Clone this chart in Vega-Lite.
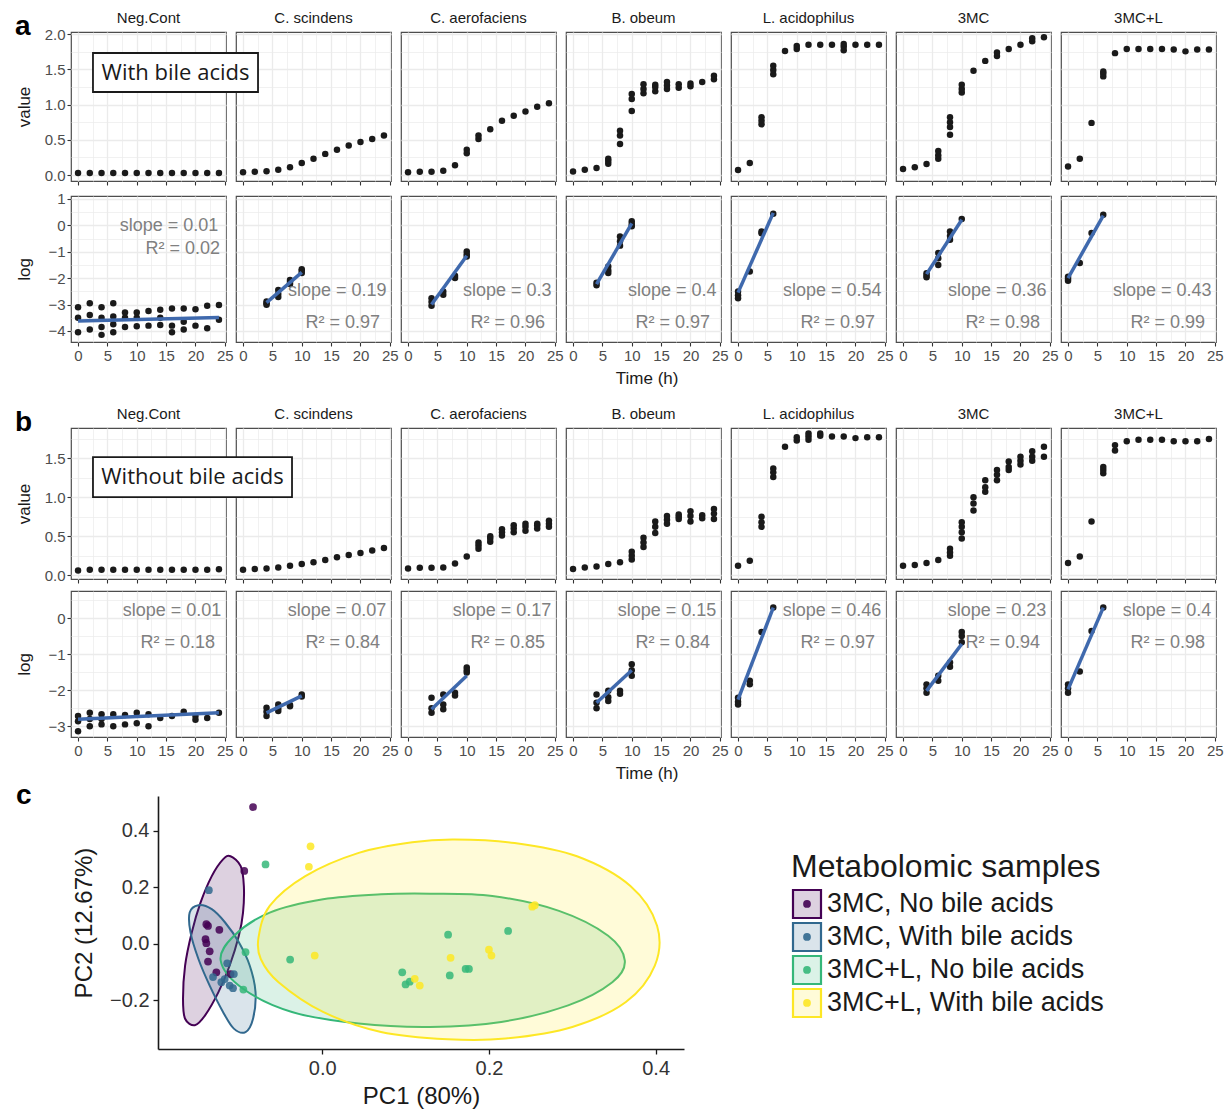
{
"$schema": "https://vega.github.io/schema/vega-lite/v6.json",
"padding": {"left": 15, "right": 4, "top": 11, "bottom": 2},
"background": "white",
"config": {
  "font": "Liberation Sans",
  "view": {"stroke": "#4d4d4d", "strokeWidth": 1.2},
  "axis": {"labelFont": "Liberation Sans", "labelFontSize": 15, "labelColor": "#4d4d4d", "titleFont": "Liberation Sans", "titleFontSize": 17, "titleFontWeight": "normal", "titleColor": "#1a1a1a", "tickColor": "#333333", "tickWidth": 1.1, "tickSize": 4, "labelPadding": 2, "domain": false, "gridColor": "#ebebeb", "labelOverlap": false},
  "header": {"labelFont": "Liberation Sans", "labelFontSize": 15, "labelColor": "#1a1a1a"},
  "title": {"font": "Liberation Sans"}
},
"datasets": {
"aval": [
{"s":"Neg.Cont","t":0,"v":0.03},{"s":"Neg.Cont","t":2,"v":0.03},{"s":"Neg.Cont","t":4,"v":0.03},{"s":"Neg.Cont","t":6,"v":0.03},{"s":"Neg.Cont","t":8,"v":0.03},{"s":"Neg.Cont","t":10,"v":0.03},{"s":"Neg.Cont","t":12,"v":0.03},{"s":"Neg.Cont","t":14,"v":0.03},{"s":"Neg.Cont","t":16,"v":0.03},{"s":"Neg.Cont","t":18,"v":0.03},{"s":"Neg.Cont","t":20,"v":0.03},{"s":"Neg.Cont","t":22,"v":0.03},{"s":"Neg.Cont","t":24,"v":0.03},
{"s":"C. scindens","t":0,"v":0.04},{"s":"C. scindens","t":2,"v":0.047},{"s":"C. scindens","t":4,"v":0.053},{"s":"C. scindens","t":6,"v":0.075},{"s":"C. scindens","t":8,"v":0.11},{"s":"C. scindens","t":10,"v":0.17},{"s":"C. scindens","t":12,"v":0.23},{"s":"C. scindens","t":14,"v":0.30},{"s":"C. scindens","t":16,"v":0.36},{"s":"C. scindens","t":18,"v":0.42},{"s":"C. scindens","t":20,"v":0.47},{"s":"C. scindens","t":22,"v":0.51},{"s":"C. scindens","t":24,"v":0.56},
{"s":"C. aerofaciens","t":0,"v":0.04},{"s":"C. aerofaciens","t":2,"v":0.047},{"s":"C. aerofaciens","t":4,"v":0.047},{"s":"C. aerofaciens","t":6,"v":0.06},{"s":"C. aerofaciens","t":8,"v":0.14},{"s":"C. aerofaciens","t":10,"v":0.31},{"s":"C. aerofaciens","t":10,"v":0.36},{"s":"C. aerofaciens","t":12,"v":0.51},{"s":"C. aerofaciens","t":12,"v":0.56},{"s":"C. aerofaciens","t":14,"v":0.65},{"s":"C. aerofaciens","t":16,"v":0.77},{"s":"C. aerofaciens","t":18,"v":0.84},{"s":"C. aerofaciens","t":20,"v":0.90},{"s":"C. aerofaciens","t":22,"v":0.97},{"s":"C. aerofaciens","t":24,"v":1.02},
{"s":"B. obeum","t":0,"v":0.05},{"s":"B. obeum","t":2,"v":0.075},{"s":"B. obeum","t":4,"v":0.10},{"s":"B. obeum","t":6,"v":0.16},{"s":"B. obeum","t":6,"v":0.20},{"s":"B. obeum","t":6,"v":0.23},{"s":"B. obeum","t":8,"v":0.44},{"s":"B. obeum","t":8,"v":0.56},{"s":"B. obeum","t":8,"v":0.63},{"s":"B. obeum","t":10,"v":0.91},{"s":"B. obeum","t":10,"v":1.08},{"s":"B. obeum","t":10,"v":1.15},{"s":"B. obeum","t":12,"v":1.16},{"s":"B. obeum","t":12,"v":1.22},{"s":"B. obeum","t":12,"v":1.29},{"s":"B. obeum","t":14,"v":1.19},{"s":"B. obeum","t":14,"v":1.25},{"s":"B. obeum","t":14,"v":1.28},{"s":"B. obeum","t":16,"v":1.22},{"s":"B. obeum","t":16,"v":1.27},{"s":"B. obeum","t":16,"v":1.32},{"s":"B. obeum","t":18,"v":1.24},{"s":"B. obeum","t":18,"v":1.29},{"s":"B. obeum","t":20,"v":1.26},{"s":"B. obeum","t":20,"v":1.30},{"s":"B. obeum","t":22,"v":1.32},{"s":"B. obeum","t":24,"v":1.36},{"s":"B. obeum","t":24,"v":1.41},
{"s":"L. acidophilus","t":0,"v":0.07},{"s":"L. acidophilus","t":2,"v":0.17},{"s":"L. acidophilus","t":4,"v":0.72},{"s":"L. acidophilus","t":4,"v":0.77},{"s":"L. acidophilus","t":4,"v":0.82},{"s":"L. acidophilus","t":6,"v":1.43},{"s":"L. acidophilus","t":6,"v":1.49},{"s":"L. acidophilus","t":6,"v":1.55},{"s":"L. acidophilus","t":8,"v":1.76},{"s":"L. acidophilus","t":10,"v":1.79},{"s":"L. acidophilus","t":10,"v":1.83},{"s":"L. acidophilus","t":12,"v":1.85},{"s":"L. acidophilus","t":14,"v":1.85},{"s":"L. acidophilus","t":16,"v":1.85},{"s":"L. acidophilus","t":18,"v":1.77},{"s":"L. acidophilus","t":18,"v":1.82},{"s":"L. acidophilus","t":18,"v":1.86},{"s":"L. acidophilus","t":20,"v":1.85},{"s":"L. acidophilus","t":22,"v":1.85},{"s":"L. acidophilus","t":24,"v":1.85},
{"s":"3MC","t":0,"v":0.085},{"s":"3MC","t":2,"v":0.11},{"s":"3MC","t":4,"v":0.155},{"s":"3MC","t":6,"v":0.23},{"s":"3MC","t":6,"v":0.28},{"s":"3MC","t":6,"v":0.34},{"s":"3MC","t":8,"v":0.57},{"s":"3MC","t":8,"v":0.68},{"s":"3MC","t":8,"v":0.75},{"s":"3MC","t":8,"v":0.82},{"s":"3MC","t":10,"v":1.17},{"s":"3MC","t":10,"v":1.22},{"s":"3MC","t":10,"v":1.28},{"s":"3MC","t":12,"v":1.48},{"s":"3MC","t":14,"v":1.62},{"s":"3MC","t":16,"v":1.69},{"s":"3MC","t":16,"v":1.74},{"s":"3MC","t":18,"v":1.79},{"s":"3MC","t":20,"v":1.85},{"s":"3MC","t":22,"v":1.90},{"s":"3MC","t":22,"v":1.94},{"s":"3MC","t":24,"v":1.955},
{"s":"3MC+L","t":0,"v":0.12},{"s":"3MC+L","t":2,"v":0.23},{"s":"3MC+L","t":4,"v":0.74},{"s":"3MC+L","t":6,"v":1.40},{"s":"3MC+L","t":6,"v":1.44},{"s":"3MC+L","t":6,"v":1.47},{"s":"3MC+L","t":8,"v":1.73},{"s":"3MC+L","t":10,"v":1.79},{"s":"3MC+L","t":12,"v":1.79},{"s":"3MC+L","t":14,"v":1.79},{"s":"3MC+L","t":16,"v":1.79},{"s":"3MC+L","t":18,"v":1.78},{"s":"3MC+L","t":20,"v":1.755},{"s":"3MC+L","t":22,"v":1.78},{"s":"3MC+L","t":24,"v":1.78},
{"s":"C. scindens","lab":"With bile acids"}
],
"alog": [
{"s":"Neg.Cont","t":0,"y":-3.10},{"s":"Neg.Cont","t":0,"y":-3.50},{"s":"Neg.Cont","t":0,"y":-4.05},
{"s":"Neg.Cont","t":2,"y":-2.95},{"s":"Neg.Cont","t":2,"y":-3.40},{"s":"Neg.Cont","t":2,"y":-3.95},
{"s":"Neg.Cont","t":4,"y":-3.10},{"s":"Neg.Cont","t":4,"y":-3.50},{"s":"Neg.Cont","t":4,"y":-3.85},{"s":"Neg.Cont","t":4,"y":-4.15},
{"s":"Neg.Cont","t":6,"y":-2.95},{"s":"Neg.Cont","t":6,"y":-3.45},{"s":"Neg.Cont","t":6,"y":-3.75},{"s":"Neg.Cont","t":6,"y":-4.05},
{"s":"Neg.Cont","t":8,"y":-3.30},{"s":"Neg.Cont","t":8,"y":-3.50},{"s":"Neg.Cont","t":8,"y":-3.85},
{"s":"Neg.Cont","t":10,"y":-3.30},{"s":"Neg.Cont","t":10,"y":-3.50},{"s":"Neg.Cont","t":10,"y":-3.82},
{"s":"Neg.Cont","t":12,"y":-3.25},{"s":"Neg.Cont","t":12,"y":-3.80},
{"s":"Neg.Cont","t":14,"y":-3.20},{"s":"Neg.Cont","t":14,"y":-3.50},{"s":"Neg.Cont","t":14,"y":-3.78},
{"s":"Neg.Cont","t":16,"y":-3.15},{"s":"Neg.Cont","t":16,"y":-3.80},{"s":"Neg.Cont","t":16,"y":-4.05},
{"s":"Neg.Cont","t":18,"y":-3.15},{"s":"Neg.Cont","t":18,"y":-3.65},{"s":"Neg.Cont","t":18,"y":-3.95},
{"s":"Neg.Cont","t":20,"y":-3.18},{"s":"Neg.Cont","t":20,"y":-3.80},
{"s":"Neg.Cont","t":22,"y":-3.05},{"s":"Neg.Cont","t":22,"y":-3.90},
{"s":"Neg.Cont","t":24,"y":-3.02},{"s":"Neg.Cont","t":24,"y":-3.58},
{"s":"C. scindens","t":4,"y":-2.89},{"s":"C. scindens","t":4,"y":-2.95},{"s":"C. scindens","t":4,"y":-3.01},{"s":"C. scindens","t":6,"y":-2.45},{"s":"C. scindens","t":6,"y":-2.60},{"s":"C. scindens","t":6,"y":-2.72},{"s":"C. scindens","t":8,"y":-2.07},{"s":"C. scindens","t":8,"y":-2.15},{"s":"C. scindens","t":8,"y":-2.22},{"s":"C. scindens","t":10,"y":-1.66},{"s":"C. scindens","t":10,"y":-1.72},{"s":"C. scindens","t":10,"y":-1.81},
{"s":"C. aerofaciens","t":4,"y":-2.76},{"s":"C. aerofaciens","t":4,"y":-2.90},{"s":"C. aerofaciens","t":4,"y":-3.05},{"s":"C. aerofaciens","t":6,"y":-2.51},{"s":"C. aerofaciens","t":6,"y":-2.63},{"s":"C. aerofaciens","t":8,"y":-1.91},{"s":"C. aerofaciens","t":8,"y":-2.00},{"s":"C. aerofaciens","t":10,"y":-0.99},{"s":"C. aerofaciens","t":10,"y":-1.10},{"s":"C. aerofaciens","t":10,"y":-1.18},
{"s":"B. obeum","t":4,"y":-2.18},{"s":"B. obeum","t":4,"y":-2.27},{"s":"B. obeum","t":6,"y":-1.56},{"s":"B. obeum","t":6,"y":-1.70},{"s":"B. obeum","t":6,"y":-1.81},{"s":"B. obeum","t":8,"y":-0.42},{"s":"B. obeum","t":8,"y":-0.60},{"s":"B. obeum","t":8,"y":-0.77},{"s":"B. obeum","t":10,"y":0.15},{"s":"B. obeum","t":10,"y":0.05},{"s":"B. obeum","t":10,"y":-0.04},
{"s":"L. acidophilus","t":0,"y":-2.51},{"s":"L. acidophilus","t":0,"y":-2.65},{"s":"L. acidophilus","t":0,"y":-2.76},{"s":"L. acidophilus","t":2,"y":-1.75},{"s":"L. acidophilus","t":4,"y":-0.23},{"s":"L. acidophilus","t":4,"y":-0.30},{"s":"L. acidophilus","t":6,"y":0.44},
{"s":"3MC","t":4,"y":-1.82},{"s":"3MC","t":4,"y":-1.90},{"s":"3MC","t":4,"y":-1.97},{"s":"3MC","t":6,"y":-1.05},{"s":"3MC","t":6,"y":-1.25},{"s":"3MC","t":6,"y":-1.50},{"s":"3MC","t":8,"y":-0.23},{"s":"3MC","t":8,"y":-0.40},{"s":"3MC","t":8,"y":-0.55},{"s":"3MC","t":10,"y":0.24},
{"s":"3MC+L","t":0,"y":-1.95},{"s":"3MC+L","t":0,"y":-2.02},{"s":"3MC+L","t":0,"y":-2.10},{"s":"3MC+L","t":2,"y":-1.43},{"s":"3MC+L","t":4,"y":-0.29},{"s":"3MC+L","t":6,"y":0.40},
{"s":"Neg.Cont","t":0,"f":-3.62},{"s":"Neg.Cont","t":24,"f":-3.49},
{"s":"C. scindens","t":4,"f":-2.93},{"s":"C. scindens","t":10,"f":-1.78},
{"s":"C. aerofaciens","t":4,"f":-3.0},{"s":"C. aerofaciens","t":10,"f":-1.15},
{"s":"B. obeum","t":4,"f":-2.23},{"s":"B. obeum","t":10,"f":0.07},
{"s":"L. acidophilus","t":0,"f":-2.55},{"s":"L. acidophilus","t":6,"f":0.47},
{"s":"3MC","t":4,"f":-1.85},{"s":"3MC","t":10,"f":0.21},
{"s":"3MC+L","t":0,"f":-2.0},{"s":"3MC+L","t":6,"f":0.37},
{"s":"Neg.Cont","sl":"slope = 0.01","r2":"R² = 0.02"},
{"s":"C. scindens","sl":"slope = 0.19","r2":"R² = 0.97"},
{"s":"C. aerofaciens","sl":"slope = 0.3","r2":"R² = 0.96"},
{"s":"B. obeum","sl":"slope = 0.4","r2":"R² = 0.97"},
{"s":"L. acidophilus","sl":"slope = 0.54","r2":"R² = 0.97"},
{"s":"3MC","sl":"slope = 0.36","r2":"R² = 0.98"},
{"s":"3MC+L","sl":"slope = 0.43","r2":"R² = 0.99"}
],
"bval": [
{"s":"Neg.Cont","t":0,"v":0.06},{"s":"Neg.Cont","t":2,"v":0.07},{"s":"Neg.Cont","t":4,"v":0.07},{"s":"Neg.Cont","t":6,"v":0.07},{"s":"Neg.Cont","t":8,"v":0.07},{"s":"Neg.Cont","t":10,"v":0.07},{"s":"Neg.Cont","t":12,"v":0.07},{"s":"Neg.Cont","t":14,"v":0.07},{"s":"Neg.Cont","t":16,"v":0.07},{"s":"Neg.Cont","t":18,"v":0.07},{"s":"Neg.Cont","t":20,"v":0.07},{"s":"Neg.Cont","t":22,"v":0.07},{"s":"Neg.Cont","t":24,"v":0.075},
{"s":"C. scindens","t":0,"v":0.069},{"s":"C. scindens","t":2,"v":0.078},{"s":"C. scindens","t":4,"v":0.086},{"s":"C. scindens","t":6,"v":0.099},{"s":"C. scindens","t":8,"v":0.12},{"s":"C. scindens","t":10,"v":0.142},{"s":"C. scindens","t":12,"v":0.164},{"s":"C. scindens","t":14,"v":0.194},{"s":"C. scindens","t":16,"v":0.228},{"s":"C. scindens","t":18,"v":0.259},{"s":"C. scindens","t":20,"v":0.284},{"s":"C. scindens","t":22,"v":0.315},{"s":"C. scindens","t":24,"v":0.349},
{"s":"C. aerofaciens","t":0,"v":0.086},{"s":"C. aerofaciens","t":2,"v":0.095},{"s":"C. aerofaciens","t":4,"v":0.095},{"s":"C. aerofaciens","t":6,"v":0.099},{"s":"C. aerofaciens","t":8,"v":0.15},{"s":"C. aerofaciens","t":10,"v":0.24},{"s":"C. aerofaciens","t":12,"v":0.34},{"s":"C. aerofaciens","t":12,"v":0.38},{"s":"C. aerofaciens","t":12,"v":0.42},{"s":"C. aerofaciens","t":14,"v":0.43},{"s":"C. aerofaciens","t":14,"v":0.47},{"s":"C. aerofaciens","t":14,"v":0.50},{"s":"C. aerofaciens","t":16,"v":0.51},{"s":"C. aerofaciens","t":16,"v":0.55},{"s":"C. aerofaciens","t":16,"v":0.59},{"s":"C. aerofaciens","t":18,"v":0.55},{"s":"C. aerofaciens","t":18,"v":0.60},{"s":"C. aerofaciens","t":18,"v":0.64},{"s":"C. aerofaciens","t":20,"v":0.57},{"s":"C. aerofaciens","t":20,"v":0.62},{"s":"C. aerofaciens","t":20,"v":0.66},{"s":"C. aerofaciens","t":22,"v":0.60},{"s":"C. aerofaciens","t":22,"v":0.64},{"s":"C. aerofaciens","t":22,"v":0.66},{"s":"C. aerofaciens","t":24,"v":0.62},{"s":"C. aerofaciens","t":24,"v":0.66},{"s":"C. aerofaciens","t":24,"v":0.70},
{"s":"B. obeum","t":0,"v":0.078},{"s":"B. obeum","t":2,"v":0.099},{"s":"B. obeum","t":4,"v":0.11},{"s":"B. obeum","t":6,"v":0.142},{"s":"B. obeum","t":8,"v":0.164},{"s":"B. obeum","t":10,"v":0.20},{"s":"B. obeum","t":10,"v":0.25},{"s":"B. obeum","t":10,"v":0.30},{"s":"B. obeum","t":12,"v":0.36},{"s":"B. obeum","t":12,"v":0.42},{"s":"B. obeum","t":12,"v":0.48},{"s":"B. obeum","t":14,"v":0.54},{"s":"B. obeum","t":14,"v":0.62},{"s":"B. obeum","t":14,"v":0.69},{"s":"B. obeum","t":16,"v":0.66},{"s":"B. obeum","t":16,"v":0.71},{"s":"B. obeum","t":16,"v":0.76},{"s":"B. obeum","t":18,"v":0.72},{"s":"B. obeum","t":18,"v":0.75},{"s":"B. obeum","t":18,"v":0.78},{"s":"B. obeum","t":20,"v":0.69},{"s":"B. obeum","t":20,"v":0.76},{"s":"B. obeum","t":20,"v":0.82},{"s":"B. obeum","t":22,"v":0.73},{"s":"B. obeum","t":22,"v":0.77},{"s":"B. obeum","t":24,"v":0.72},{"s":"B. obeum","t":24,"v":0.79},{"s":"B. obeum","t":24,"v":0.85},
{"s":"L. acidophilus","t":0,"v":0.12},{"s":"L. acidophilus","t":2,"v":0.185},{"s":"L. acidophilus","t":4,"v":0.62},{"s":"L. acidophilus","t":4,"v":0.68},{"s":"L. acidophilus","t":4,"v":0.75},{"s":"L. acidophilus","t":6,"v":1.26},{"s":"L. acidophilus","t":6,"v":1.32},{"s":"L. acidophilus","t":6,"v":1.37},{"s":"L. acidophilus","t":8,"v":1.65},{"s":"L. acidophilus","t":10,"v":1.73},{"s":"L. acidophilus","t":10,"v":1.77},{"s":"L. acidophilus","t":12,"v":1.74},{"s":"L. acidophilus","t":12,"v":1.78},{"s":"L. acidophilus","t":12,"v":1.82},{"s":"L. acidophilus","t":14,"v":1.79},{"s":"L. acidophilus","t":14,"v":1.82},{"s":"L. acidophilus","t":16,"v":1.78},{"s":"L. acidophilus","t":18,"v":1.78},{"s":"L. acidophilus","t":20,"v":1.76},{"s":"L. acidophilus","t":22,"v":1.77},{"s":"L. acidophilus","t":24,"v":1.77},
{"s":"3MC","t":0,"v":0.12},{"s":"3MC","t":2,"v":0.13},{"s":"3MC","t":4,"v":0.155},{"s":"3MC","t":6,"v":0.194},{"s":"3MC","t":8,"v":0.25},{"s":"3MC","t":8,"v":0.29},{"s":"3MC","t":8,"v":0.34},{"s":"3MC","t":10,"v":0.47},{"s":"3MC","t":10,"v":0.55},{"s":"3MC","t":10,"v":0.62},{"s":"3MC","t":10,"v":0.68},{"s":"3MC","t":12,"v":0.83},{"s":"3MC","t":12,"v":0.92},{"s":"3MC","t":12,"v":1.0},{"s":"3MC","t":14,"v":1.07},{"s":"3MC","t":14,"v":1.13},{"s":"3MC","t":14,"v":1.22},{"s":"3MC","t":16,"v":1.22},{"s":"3MC","t":16,"v":1.29},{"s":"3MC","t":16,"v":1.35},{"s":"3MC","t":18,"v":1.35},{"s":"3MC","t":18,"v":1.39},{"s":"3MC","t":18,"v":1.46},{"s":"3MC","t":20,"v":1.42},{"s":"3MC","t":20,"v":1.47},{"s":"3MC","t":20,"v":1.52},{"s":"3MC","t":22,"v":1.47},{"s":"3MC","t":22,"v":1.52},{"s":"3MC","t":22,"v":1.59},{"s":"3MC","t":24,"v":1.52},{"s":"3MC","t":24,"v":1.65},
{"s":"3MC+L","t":0,"v":0.155},{"s":"3MC+L","t":2,"v":0.24},{"s":"3MC+L","t":4,"v":0.69},{"s":"3MC+L","t":6,"v":1.31},{"s":"3MC+L","t":6,"v":1.35},{"s":"3MC+L","t":6,"v":1.39},{"s":"3MC+L","t":8,"v":1.60},{"s":"3MC+L","t":8,"v":1.67},{"s":"3MC+L","t":10,"v":1.72},{"s":"3MC+L","t":12,"v":1.74},{"s":"3MC+L","t":14,"v":1.74},{"s":"3MC+L","t":16,"v":1.74},{"s":"3MC+L","t":18,"v":1.72},{"s":"3MC+L","t":20,"v":1.72},{"s":"3MC+L","t":22,"v":1.72},{"s":"3MC+L","t":24,"v":1.75},
{"s":"C. scindens","lab":"Without bile acids"}
],
"blog": [
{"s":"Neg.Cont","t":0,"y":-2.72},{"s":"Neg.Cont","t":0,"y":-2.86},{"s":"Neg.Cont","t":0,"y":-3.14},
{"s":"Neg.Cont","t":2,"y":-2.63},{"s":"Neg.Cont","t":2,"y":-2.80},{"s":"Neg.Cont","t":2,"y":-3.00},
{"s":"Neg.Cont","t":4,"y":-2.67},{"s":"Neg.Cont","t":4,"y":-2.80},{"s":"Neg.Cont","t":4,"y":-2.95},
{"s":"Neg.Cont","t":6,"y":-2.67},{"s":"Neg.Cont","t":6,"y":-3.00},
{"s":"Neg.Cont","t":8,"y":-2.69},{"s":"Neg.Cont","t":8,"y":-2.95},
{"s":"Neg.Cont","t":10,"y":-2.63},{"s":"Neg.Cont","t":10,"y":-2.92},
{"s":"Neg.Cont","t":12,"y":-2.67},{"s":"Neg.Cont","t":12,"y":-3.00},
{"s":"Neg.Cont","t":14,"y":-2.77},{"s":"Neg.Cont","t":16,"y":-2.72},{"s":"Neg.Cont","t":18,"y":-2.60},
{"s":"Neg.Cont","t":20,"y":-2.72},{"s":"Neg.Cont","t":20,"y":-2.82},
{"s":"Neg.Cont","t":22,"y":-2.77},{"s":"Neg.Cont","t":24,"y":-2.63},
{"s":"C. scindens","t":4,"y":-2.49},{"s":"C. scindens","t":4,"y":-2.60},{"s":"C. scindens","t":4,"y":-2.72},{"s":"C. scindens","t":6,"y":-2.40},{"s":"C. scindens","t":6,"y":-2.50},{"s":"C. scindens","t":6,"y":-2.58},{"s":"C. scindens","t":8,"y":-2.41},{"s":"C. scindens","t":8,"y":-2.45},{"s":"C. scindens","t":10,"y":-2.12},{"s":"C. scindens","t":10,"y":-2.18},
{"s":"C. aerofaciens","t":4,"y":-2.21},{"s":"C. aerofaciens","t":4,"y":-2.50},{"s":"C. aerofaciens","t":4,"y":-2.63},{"s":"C. aerofaciens","t":6,"y":-2.12},{"s":"C. aerofaciens","t":6,"y":-2.40},{"s":"C. aerofaciens","t":6,"y":-2.53},{"s":"C. aerofaciens","t":8,"y":-2.07},{"s":"C. aerofaciens","t":8,"y":-2.15},{"s":"C. aerofaciens","t":10,"y":-1.37},{"s":"C. aerofaciens","t":10,"y":-1.45},{"s":"C. aerofaciens","t":10,"y":-1.51},
{"s":"B. obeum","t":4,"y":-2.12},{"s":"B. obeum","t":4,"y":-2.35},{"s":"B. obeum","t":4,"y":-2.50},{"s":"B. obeum","t":6,"y":-2.02},{"s":"B. obeum","t":6,"y":-2.20},{"s":"B. obeum","t":6,"y":-2.30},{"s":"B. obeum","t":8,"y":-2.02},{"s":"B. obeum","t":8,"y":-2.10},{"s":"B. obeum","t":10,"y":-1.28},{"s":"B. obeum","t":10,"y":-1.45},{"s":"B. obeum","t":10,"y":-1.60},
{"s":"L. acidophilus","t":0,"y":-2.21},{"s":"L. acidophilus","t":0,"y":-2.32},{"s":"L. acidophilus","t":0,"y":-2.40},{"s":"L. acidophilus","t":2,"y":-1.74},{"s":"L. acidophilus","t":2,"y":-1.84},{"s":"L. acidophilus","t":4,"y":-0.39},{"s":"L. acidophilus","t":6,"y":0.29},
{"s":"3MC","t":4,"y":-1.84},{"s":"3MC","t":4,"y":-1.95},{"s":"3MC","t":4,"y":-2.07},{"s":"3MC","t":6,"y":-1.60},{"s":"3MC","t":6,"y":-1.74},{"s":"3MC","t":8,"y":-1.23},{"s":"3MC","t":8,"y":-1.35},{"s":"3MC","t":10,"y":-0.39},{"s":"3MC","t":10,"y":-0.50},{"s":"3MC","t":10,"y":-0.67},
{"s":"3MC+L","t":0,"y":-1.84},{"s":"3MC+L","t":0,"y":-1.95},{"s":"3MC+L","t":0,"y":-2.07},{"s":"3MC+L","t":2,"y":-1.48},{"s":"3MC+L","t":4,"y":-0.36},{"s":"3MC+L","t":6,"y":0.29},
{"s":"Neg.Cont","t":0,"f":-2.81},{"s":"Neg.Cont","t":24,"f":-2.63},
{"s":"C. scindens","t":4,"f":-2.63},{"s":"C. scindens","t":10,"f":-2.16},
{"s":"C. aerofaciens","t":4,"f":-2.53},{"s":"C. aerofaciens","t":10,"f":-1.6},
{"s":"B. obeum","t":4,"f":-2.35},{"s":"B. obeum","t":10,"f":-1.45},
{"s":"L. acidophilus","t":0,"f":-2.26},{"s":"L. acidophilus","t":6,"f":0.29},
{"s":"3MC","t":4,"f":-2.02},{"s":"3MC","t":10,"f":-0.72},
{"s":"3MC+L","t":0,"f":-1.98},{"s":"3MC+L","t":6,"f":0.29},
{"s":"Neg.Cont","sl":"slope = 0.01","r2":"R² = 0.18"},
{"s":"C. scindens","sl":"slope = 0.07","r2":"R² = 0.84"},
{"s":"C. aerofaciens","sl":"slope = 0.17","r2":"R² = 0.85"},
{"s":"B. obeum","sl":"slope = 0.15","r2":"R² = 0.84"},
{"s":"L. acidophilus","sl":"slope = 0.46","r2":"R² = 0.97"},
{"s":"3MC","sl":"slope = 0.23","r2":"R² = 0.94"},
{"s":"3MC+L","sl":"slope = 0.4","r2":"R² = 0.98"}
],
"pca": [
{"g":"3MC, No bile acids","x":-0.083,"y":0.483},{"g":"3MC, No bile acids","x":-0.0935,"y":0.257},{"g":"3MC, No bile acids","x":-0.139,"y":0.069},{"g":"3MC, No bile acids","x":-0.137,"y":0.063},{"g":"3MC, No bile acids","x":-0.1234,"y":0.049},{"g":"3MC, No bile acids","x":-0.140,"y":0.016},{"g":"3MC, No bile acids","x":-0.139,"y":0.002},{"g":"3MC, No bile acids","x":-0.135,"y":-0.027},{"g":"3MC, No bile acids","x":-0.137,"y":-0.063},{"g":"3MC, No bile acids","x":-0.127,"y":-0.101},{"g":"3MC, No bile acids","x":-0.110,"y":-0.107},
{"g":"3MC, With bile acids","x":-0.136,"y":0.189},{"g":"3MC, With bile acids","x":-0.114,"y":-0.069},{"g":"3MC, With bile acids","x":-0.106,"y":-0.107},{"g":"3MC, With bile acids","x":-0.131,"y":-0.118},{"g":"3MC, With bile acids","x":-0.121,"y":-0.136},{"g":"3MC, With bile acids","x":-0.111,"y":-0.148},{"g":"3MC, With bile acids","x":-0.107,"y":-0.157},{"g":"3MC, With bile acids","x":-0.117,"y":-0.125},
{"g":"3MC+L, No bile acids","x":-0.068,"y":0.28},{"g":"3MC+L, No bile acids","x":-0.092,"y":-0.030},{"g":"3MC+L, No bile acids","x":-0.0946,"y":-0.162},{"g":"3MC+L, No bile acids","x":-0.0385,"y":-0.056},{"g":"3MC+L, No bile acids","x":0.151,"y":0.032},{"g":"3MC+L, No bile acids","x":0.223,"y":0.045},{"g":"3MC+L, No bile acids","x":0.096,"y":-0.101},{"g":"3MC+L, No bile acids","x":0.100,"y":-0.144},{"g":"3MC+L, No bile acids","x":0.105,"y":-0.134},{"g":"3MC+L, No bile acids","x":0.153,"y":-0.112},{"g":"3MC+L, No bile acids","x":0.172,"y":-0.089},{"g":"3MC+L, No bile acids","x":0.176,"y":-0.089},
{"g":"3MC+L, With bile acids","x":-0.014,"y":0.344},{"g":"3MC+L, With bile acids","x":-0.016,"y":0.272},{"g":"3MC+L, With bile acids","x":-0.009,"y":-0.042},{"g":"3MC+L, With bile acids","x":0.154,"y":-0.050},{"g":"3MC+L, With bile acids","x":0.200,"y":-0.021},{"g":"3MC+L, With bile acids","x":0.203,"y":-0.042},{"g":"3MC+L, With bile acids","x":0.252,"y":0.131},{"g":"3MC+L, With bile acids","x":0.255,"y":0.136},{"g":"3MC+L, With bile acids","x":0.111,"y":-0.124},{"g":"3MC+L, With bile acids","x":0.117,"y":-0.148}
],
"ell": [
{"g":"3MC, No bile acids","i":0,"x":-0.110,"y":0.309},{"g":"3MC, No bile acids","i":1,"x":-0.0978,"y":0.274},{"g":"3MC, No bile acids","i":2,"x":-0.094,"y":0.204},{"g":"3MC, No bile acids","i":3,"x":-0.095,"y":0.110},{"g":"3MC, No bile acids","i":4,"x":-0.100,"y":0.028},{"g":"3MC, No bile acids","i":5,"x":-0.111,"y":-0.077},{"g":"3MC, No bile acids","i":6,"x":-0.1245,"y":-0.171},{"g":"3MC, No bile acids","i":7,"x":-0.1405,"y":-0.253},{"g":"3MC, No bile acids","i":8,"x":-0.1528,"y":-0.288},{"g":"3MC, No bile acids","i":9,"x":-0.1645,"y":-0.265},{"g":"3MC, No bile acids","i":10,"x":-0.167,"y":-0.194},{"g":"3MC, No bile acids","i":11,"x":-0.1645,"y":-0.077},{"g":"3MC, No bile acids","i":12,"x":-0.1565,"y":0.040},{"g":"3MC, No bile acids","i":13,"x":-0.146,"y":0.145},{"g":"3MC, No bile acids","i":14,"x":-0.1325,"y":0.239},{"g":"3MC, No bile acids","i":15,"x":-0.119,"y":0.298},
{"g":"3MC, With bile acids","i":0,"x":-0.1485,"y":0.136},{"g":"3MC, With bile acids","i":1,"x":-0.1325,"y":0.122},{"g":"3MC, With bile acids","i":2,"x":-0.1165,"y":0.075},{"g":"3MC, With bile acids","i":3,"x":-0.100,"y":0.005},{"g":"3MC, With bile acids","i":4,"x":-0.087,"y":-0.077},{"g":"3MC, With bile acids","i":5,"x":-0.080,"y":-0.171},{"g":"3MC, With bile acids","i":6,"x":-0.083,"y":-0.265},{"g":"3MC, With bile acids","i":7,"x":-0.092,"y":-0.312},{"g":"3MC, With bile acids","i":8,"x":-0.106,"y":-0.300},{"g":"3MC, With bile acids","i":9,"x":-0.119,"y":-0.241},{"g":"3MC, With bile acids","i":10,"x":-0.135,"y":-0.148},{"g":"3MC, With bile acids","i":11,"x":-0.1485,"y":-0.054},{"g":"3MC, With bile acids","i":12,"x":-0.158,"y":0.040},{"g":"3MC, With bile acids","i":13,"x":-0.159,"y":0.110},
{"g":"3MC+L, No bile acids","i":0,"x":-0.1218,"y":-0.0598},{"g":"3MC+L, No bile acids","i":1,"x":-0.1058,"y":0.0281},{"g":"3MC+L, No bile acids","i":2,"x":-0.063,"y":0.110},{"g":"3MC+L, No bile acids","i":3,"x":0.001,"y":0.157},{"g":"3MC+L, No bile acids","i":4,"x":0.0705,"y":0.1746},{"g":"3MC+L, No bile acids","i":5,"x":0.1293,"y":0.1769},{"g":"3MC+L, No bile acids","i":6,"x":0.204,"y":0.1687},{"g":"3MC+L, No bile acids","i":7,"x":0.284,"y":0.116},{"g":"3MC+L, No bile acids","i":8,"x":0.343,"y":0.0281},{"g":"3MC+L, No bile acids","i":9,"x":0.363,"y":-0.0598},{"g":"3MC+L, No bile acids","i":10,"x":0.348,"y":-0.136},{"g":"3MC+L, No bile acids","i":11,"x":0.295,"y":-0.218},{"g":"3MC+L, No bile acids","i":12,"x":0.2147,"y":-0.2765},{"g":"3MC+L, No bile acids","i":13,"x":0.1293,"y":-0.294},{"g":"3MC+L, No bile acids","i":14,"x":0.0438,"y":-0.282},{"g":"3MC+L, No bile acids","i":15,"x":-0.0363,"y":-0.241},{"g":"3MC+L, No bile acids","i":16,"x":-0.095,"y":-0.159},
{"g":"3MC+L, With bile acids","i":0,"x":-0.0764,"y":0.0223},{"g":"3MC+L, With bile acids","i":1,"x":-0.063,"y":0.1336},{"g":"3MC+L, With bile acids","i":2,"x":-0.0203,"y":0.239},{"g":"3MC+L, With bile acids","i":3,"x":0.0438,"y":0.321},{"g":"3MC+L, With bile acids","i":4,"x":0.108,"y":0.3585},{"g":"3MC+L, With bile acids","i":5,"x":0.1587,"y":0.368},{"g":"3MC+L, With bile acids","i":6,"x":0.2308,"y":0.356},{"g":"3MC+L, With bile acids","i":7,"x":0.3056,"y":0.309},{"g":"3MC+L, With bile acids","i":8,"x":0.3697,"y":0.204},{"g":"3MC+L, With bile acids","i":9,"x":0.4017,"y":0.0633},{"g":"3MC+L, With bile acids","i":10,"x":0.399,"y":-0.0773},{"g":"3MC+L, With bile acids","i":11,"x":0.3643,"y":-0.206},{"g":"3MC+L, With bile acids","i":12,"x":0.300,"y":-0.294},{"g":"3MC+L, With bile acids","i":13,"x":0.220,"y":-0.335},{"g":"3MC+L, With bile acids","i":14,"x":0.1506,"y":-0.3374},{"g":"3MC+L, With bile acids","i":15,"x":0.0705,"y":-0.3117},{"g":"3MC+L, With bile acids","i":16,"x":0.001,"y":-0.241},{"g":"3MC+L, With bile acids","i":17,"x":-0.0524,"y":-0.136},{"g":"3MC+L, With bile acids","i":18,"x":-0.0737,"y":-0.054}
],
"grp": [{"g":"3MC, No bile acids"},{"g":"3MC, With bile acids"},{"g":"3MC+L, No bile acids"},{"g":"3MC+L, With bile acids"}]
},
"vconcat": [
 {"vconcat": [
 {"vconcat": [
  {
   "data": {"name": "aval"},
   "title": {"text": "a", "anchor": "start", "frame": "bounds", "fontSize": 28, "fontWeight": "bold", "color": "#000000", "offset": -30},
   "bounds": "flush",
   "spacing": 10,
   "facet": {"column": {"field": "s", "type": "nominal", "sort": ["Neg.Cont","C. scindens","C. aerofaciens","B. obeum","L. acidophilus","3MC","3MC+L"], "header": {"title": null, "labelFontSize": 15, "labelColor": "#1a1a1a", "labelPadding": 6}}},
   "spec": {
    "width": 155, "height": 149,
    "resolve": {"axis": {"x": "independent", "y": "independent"}},
    "layer": [
     {"transform": [{"filter": "isValid(datum.v)"}],
      "mark": {"type": "circle", "size": 42, "color": "#1a1a1a", "opacity": 1},
      "encoding": {
       "x": {"field": "t", "type": "quantitative", "scale": {"domain": [-1.2, 25.2], "nice": false, "zero": false},
             "axis": {"title": null, "values": [0,5,10,15,20,25], "labels": false, "grid": true, "gridWidth": 1.3}},
       "y": {"field": "v", "type": "quantitative", "scale": {"domain": [-0.085, 2.03], "nice": false, "zero": false},
             "axis": {"title": "value", "values": [0,0.5,1,1.5,2], "format": ".1f", "grid": true, "gridWidth": 1.3, "minExtent": 28, "maxExtent": 28, "titlePadding": 10}}
      }},
     {"transform": [{"filter": "isValid(datum.lab)"}],
      "mark": {"type": "rect", "fill": "white", "stroke": "#1a1a1a", "strokeWidth": 1.8},
      "encoding": {
       "x": {"datum": -25.56, "axis": {"orient": "bottom", "title": null, "values": [2.5,7.5,12.5,17.5,22.5], "labels": false, "ticks": false, "domain": false, "grid": true, "gridWidth": 0.7, "minExtent": 0, "maxExtent": 0}},
       "x2": {"datum": 2.55},
       "y": {"datum": 1.732, "axis": {"orient": "left", "title": null, "values": [0.25,0.75,1.25,1.75], "labels": false, "ticks": false, "domain": false, "grid": true, "gridWidth": 0.7, "minExtent": 0, "maxExtent": 0}},
       "y2": {"datum": 1.178}}},
     {"transform": [{"filter": "isValid(datum.lab)"}],
      "mark": {"type": "text", "font": "Open Sans", "fontSize": 22, "color": "#1a1a1a"},
      "encoding": {"x": {"datum": -11.5, "axis": null}, "y": {"datum": 1.448, "axis": null}, "text": {"field": "lab"}}}
    ]
   }
  },
  {
   "data": {"name": "alog"},
   "title": {"text": "Time (h)", "orient": "bottom", "anchor": "middle", "frame": "bounds", "dx": 28, "fontSize": 17, "fontWeight": "normal", "color": "#1a1a1a", "offset": 8},
   "bounds": "flush",
   "spacing": 10,
   "facet": {"column": {"field": "s", "type": "nominal", "sort": ["Neg.Cont","C. scindens","C. aerofaciens","B. obeum","L. acidophilus","3MC","3MC+L"], "header": {"title": null, "labels": false}}},
   "spec": {
    "width": 155, "height": 146,
    "resolve": {"axis": {"x": "independent", "y": "independent"}},
    "layer": [
     {"transform": [{"filter": "isValid(datum.y)"}],
      "mark": {"type": "circle", "size": 42, "color": "#1a1a1a", "opacity": 1},
      "encoding": {
       "x": {"field": "t", "type": "quantitative", "scale": {"domain": [-1.2, 25.2], "nice": false, "zero": false},
             "axis": {"title": null, "values": [0,5,10,15,20,25], "format": "d", "labelFlush": false, "labelBound": false, "grid": true, "gridWidth": 1.3}},
       "y": {"field": "y", "type": "quantitative", "scale": {"domain": [-4.42, 1.11], "nice": false, "zero": false},
             "axis": {"title": "log", "values": [-4,-3,-2,-1,0,1], "format": "d", "grid": true, "gridWidth": 1.3, "minExtent": 28, "maxExtent": 28, "titlePadding": 10}}
      }},
     {"transform": [{"filter": "isValid(datum.f)"}],
      "mark": {"type": "line", "color": "#3f69ad", "strokeWidth": 3.5},
      "encoding": {
       "x": {"field": "t", "type": "quantitative", "axis": {"orient": "bottom", "title": null, "values": [2.5,7.5,12.5,17.5,22.5], "labels": false, "ticks": false, "domain": false, "grid": true, "gridWidth": 0.7, "minExtent": 0, "maxExtent": 0}},
       "y": {"field": "f", "type": "quantitative", "axis": {"orient": "left", "title": null, "values": [-3.5,-2.5,-1.5,-0.5,0.5], "labels": false, "ticks": false, "domain": false, "grid": true, "gridWidth": 0.7, "minExtent": 0, "maxExtent": 0}}}},
     {"transform": [{"filter": "isValid(datum.sl) && datum.s == 'Neg.Cont'"}],
      "mark": {"type": "text", "align": "right", "baseline": "middle", "fontSize": 18, "color": "#808080"},
      "encoding": {"x": {"datum": 23.9, "axis": null}, "y": {"datum": -0.04, "axis": null}, "text": {"field": "sl"}}},
     {"transform": [{"filter": "isValid(datum.sl) && datum.s == 'Neg.Cont'"}],
      "mark": {"type": "text", "align": "right", "baseline": "middle", "fontSize": 18, "color": "#808080"},
      "encoding": {"x": {"datum": 24.2, "axis": null}, "y": {"datum": -0.9, "axis": null}, "text": {"field": "r2"}}},
     {"transform": [{"filter": "isValid(datum.sl) && datum.s != 'Neg.Cont'"}],
      "mark": {"type": "text", "align": "right", "baseline": "middle", "fontSize": 18, "color": "#808080"},
      "encoding": {"x": {"datum": 24.45, "axis": null}, "y": {"datum": -2.49, "axis": null}, "text": {"field": "sl"}}},
     {"transform": [{"filter": "isValid(datum.sl) && datum.s != 'Neg.Cont'"}],
      "mark": {"type": "text", "align": "right", "baseline": "middle", "fontSize": 18, "color": "#808080"},
      "encoding": {"x": {"datum": 23.35, "axis": null}, "y": {"datum": -3.71, "axis": null}, "text": {"field": "r2"}}}
    ]
   }
  }
 ], "spacing": 5},
 {"vconcat": [
  {
   "data": {"name": "bval"},
   "title": {"text": "b", "anchor": "start", "frame": "bounds", "fontSize": 28, "fontWeight": "bold", "color": "#000000", "offset": -30},
   "bounds": "flush",
   "spacing": 10,
   "facet": {"column": {"field": "s", "type": "nominal", "sort": ["Neg.Cont","C. scindens","C. aerofaciens","B. obeum","L. acidophilus","3MC","3MC+L"], "header": {"title": null, "labelFontSize": 15, "labelColor": "#1a1a1a", "labelPadding": 6}}},
   "spec": {
    "width": 155, "height": 151,
    "resolve": {"axis": {"x": "independent", "y": "independent"}},
    "layer": [
     {"transform": [{"filter": "isValid(datum.v)"}],
      "mark": {"type": "circle", "size": 42, "color": "#1a1a1a", "opacity": 1},
      "encoding": {
       "x": {"field": "t", "type": "quantitative", "scale": {"domain": [-1.2, 25.2], "nice": false, "zero": false},
             "axis": {"title": null, "values": [0,5,10,15,20,25], "labels": false, "grid": true, "gridWidth": 1.3}},
       "y": {"field": "v", "type": "quantitative", "scale": {"domain": [-0.05, 1.89], "nice": false, "zero": false},
             "axis": {"title": "value", "values": [0,0.5,1,1.5], "format": ".1f", "grid": true, "gridWidth": 1.3, "minExtent": 28, "maxExtent": 28, "titlePadding": 10}}
      }},
     {"transform": [{"filter": "isValid(datum.lab)"}],
      "mark": {"type": "rect", "fill": "white", "stroke": "#1a1a1a", "strokeWidth": 1.8},
      "encoding": {
       "x": {"datum": -25.56, "axis": {"orient": "bottom", "title": null, "values": [2.5,7.5,12.5,17.5,22.5], "labels": false, "ticks": false, "domain": false, "grid": true, "gridWidth": 0.7, "minExtent": 0, "maxExtent": 0}},
       "x2": {"datum": 8.34},
       "y": {"datum": 1.517, "axis": {"orient": "left", "title": null, "values": [0.25,0.75,1.25,1.75], "labels": false, "ticks": false, "domain": false, "grid": true, "gridWidth": 0.7, "minExtent": 0, "maxExtent": 0}},
       "y2": {"datum": 1.003}}},
     {"transform": [{"filter": "isValid(datum.lab)"}],
      "mark": {"type": "text", "font": "Open Sans", "fontSize": 22, "color": "#1a1a1a"},
      "encoding": {"x": {"datum": -8.61, "axis": null}, "y": {"datum": 1.26, "axis": null}, "text": {"field": "lab"}}}
    ]
   }
  },
  {
   "data": {"name": "blog"},
   "title": {"text": "Time (h)", "orient": "bottom", "anchor": "middle", "frame": "bounds", "dx": 28, "fontSize": 17, "fontWeight": "normal", "color": "#1a1a1a", "offset": 8},
   "bounds": "flush",
   "spacing": 10,
   "facet": {"column": {"field": "s", "type": "nominal", "sort": ["Neg.Cont","C. scindens","C. aerofaciens","B. obeum","L. acidophilus","3MC","3MC+L"], "header": {"title": null, "labels": false}}},
   "spec": {
    "width": 155, "height": 146,
    "resolve": {"axis": {"x": "independent", "y": "independent"}},
    "layer": [
     {"transform": [{"filter": "isValid(datum.y)"}],
      "mark": {"type": "circle", "size": 42, "color": "#1a1a1a", "opacity": 1},
      "encoding": {
       "x": {"field": "t", "type": "quantitative", "scale": {"domain": [-1.2, 25.2], "nice": false, "zero": false},
             "axis": {"title": null, "values": [0,5,10,15,20,25], "format": "d", "labelFlush": false, "labelBound": false, "grid": true, "gridWidth": 1.3}},
       "y": {"field": "y", "type": "quantitative", "scale": {"domain": [-3.3, 0.75], "nice": false, "zero": false},
             "axis": {"title": "log", "values": [-3,-2,-1,0], "format": "d", "grid": true, "gridWidth": 1.3, "minExtent": 28, "maxExtent": 28, "titlePadding": 10}}
      }},
     {"transform": [{"filter": "isValid(datum.f)"}],
      "mark": {"type": "line", "color": "#3f69ad", "strokeWidth": 3.5},
      "encoding": {
       "x": {"field": "t", "type": "quantitative", "axis": {"orient": "bottom", "title": null, "values": [2.5,7.5,12.5,17.5,22.5], "labels": false, "ticks": false, "domain": false, "grid": true, "gridWidth": 0.7, "minExtent": 0, "maxExtent": 0}},
       "y": {"field": "f", "type": "quantitative", "axis": {"orient": "left", "title": null, "values": [-2.5,-1.5,-0.5,0.5], "labels": false, "ticks": false, "domain": false, "grid": true, "gridWidth": 0.7, "minExtent": 0, "maxExtent": 0}}}},
     {"transform": [{"filter": "isValid(datum.sl)"}],
      "mark": {"type": "text", "align": "right", "baseline": "middle", "fontSize": 18, "color": "#808080"},
      "encoding": {"x": {"datum": 24.4, "axis": null}, "y": {"datum": 0.196, "axis": null}, "text": {"field": "sl"}}},
     {"transform": [{"filter": "isValid(datum.sl)"}],
      "mark": {"type": "text", "align": "right", "baseline": "middle", "fontSize": 18, "color": "#808080"},
      "encoding": {"x": {"datum": 23.35, "axis": null}, "y": {"datum": -0.70, "axis": null}, "text": {"field": "r2"}}}
    ]
   }
  }
 ], "spacing": 6}
 ], "spacing": 20},
 {"hconcat": [
  {
   "width": 1, "height": 253,
   "view": {"stroke": null},
   "data": {"values": []},
   "mark": {"type": "point"},
   "title": {"text": "c", "anchor": "start", "frame": "group", "fontSize": 28, "fontWeight": "bold", "color": "#000000", "dx": -55, "offset": -14}
  },
  {"hconcat": [
  {
   "width": 526, "height": 253,
   "view": {"stroke": null},
   "layer": [
    {"data": {"name": "ell"},
     "mark": {"type": "line", "interpolate": "cardinal-closed", "strokeWidth": 2, "fillOpacity": 0.18},
     "encoding": {
      "x": {"field": "x", "type": "quantitative", "scale": {"domain": [-0.197, 0.434], "nice": false, "zero": false},
            "axis": {"values": [0, 0.2, 0.4], "format": ".1f", "title": "PC1 (80%)", "grid": false, "domain": true, "domainColor": "#1a1a1a", "domainWidth": 1.6, "ticks": true, "tickColor": "#1a1a1a", "tickWidth": 1.3, "tickSize": 5, "labelFontSize": 20, "labelColor": "#333333", "labelPadding": 4, "labelFlush": false, "titleFontSize": 24, "titlePadding": 6}},
      "y": {"field": "y", "type": "quantitative", "scale": {"domain": [-0.372, 0.522], "nice": false, "zero": false},
            "axis": {"values": [-0.2, 0, 0.2, 0.4], "format": ".1f", "title": "PC2 (12.67%)", "grid": false, "domain": true, "domainColor": "#1a1a1a", "domainWidth": 1.6, "ticks": true, "tickColor": "#1a1a1a", "tickWidth": 1.3, "tickSize": 5, "labelFontSize": 20, "labelColor": "#333333", "labelPadding": 4, "labelFlush": false, "titleFontSize": 24, "titlePadding": 10, "minExtent": 52, "maxExtent": 52}},
      "order": {"field": "i", "type": "quantitative"},
      "stroke": {"field": "g", "type": "nominal", "scale": {"domain": ["3MC, No bile acids","3MC, With bile acids","3MC+L, No bile acids","3MC+L, With bile acids"], "range": ["#440154","#31688e","#35b779","#fde725"]}, "legend": null},
      "fill": {"field": "g", "type": "nominal", "scale": {"domain": ["3MC, No bile acids","3MC, With bile acids","3MC+L, No bile acids","3MC+L, With bile acids"], "range": ["#440154","#31688e","#35b779","#fde725"]}, "legend": null}
     }},
    {"data": {"name": "pca"},
     "mark": {"type": "circle", "size": 60, "opacity": 0.85},
     "encoding": {
      "x": {"field": "x", "type": "quantitative"},
      "y": {"field": "y", "type": "quantitative"},
      "color": {"field": "g", "type": "nominal", "scale": {"domain": ["3MC, No bile acids","3MC, With bile acids","3MC+L, No bile acids","3MC+L, With bile acids"], "range": ["#440154","#31688e","#35b779","#fde725"]}, "legend": null}
     }}
   ]
  },
  {
   "data": {"name": "grp"},
   "width": 28, "height": 231,
   "view": {"stroke": null},
   "layer": [
    {"data": {"values": [{"t": "Metabolomic samples"}]},
     "mark": {"type": "text", "align": "left", "baseline": "middle", "dx": -16, "dy": -4, "fontSize": 32, "color": "#1a1a1a"},
     "encoding": {
      "y": {"datum": "Metabolomic samples", "type": "nominal", "axis": null, "scale": {"type": "band", "domain": ["Metabolomic samples","3MC, No bile acids","3MC, With bile acids","3MC+L, No bile acids","3MC+L, With bile acids"], "paddingInner": 0, "paddingOuter": 1, "align": 0.886}},
      "text": {"field": "t"}
     }},
    {"mark": {"type": "point", "shape": "square", "size": 784, "strokeWidth": 2.2, "fillOpacity": 0.18, "filled": false, "opacity": 1},
     "encoding": {
      "y": {"field": "g", "type": "nominal", "axis": null},
      "stroke": {"field": "g", "type": "nominal", "scale": {"domain": ["3MC, No bile acids","3MC, With bile acids","3MC+L, No bile acids","3MC+L, With bile acids"], "range": ["#440154","#31688e","#35b779","#fde725"]}, "legend": null},
      "fill": {"field": "g", "type": "nominal", "scale": {"domain": ["3MC, No bile acids","3MC, With bile acids","3MC+L, No bile acids","3MC+L, With bile acids"], "range": ["#440154","#31688e","#35b779","#fde725"]}, "legend": null}
     }},
    {"mark": {"type": "circle", "size": 60, "opacity": 0.9},
     "encoding": {
      "y": {"field": "g", "type": "nominal", "axis": null},
      "color": {"field": "g", "type": "nominal", "scale": {"domain": ["3MC, No bile acids","3MC, With bile acids","3MC+L, No bile acids","3MC+L, With bile acids"], "range": ["#440154","#31688e","#35b779","#fde725"]}, "legend": null}
     }},
    {"mark": {"type": "text", "align": "left", "baseline": "middle", "dx": 20, "fontSize": 27, "color": "#1a1a1a"},
     "encoding": {
      "y": {"field": "g", "type": "nominal", "axis": null},
      "text": {"field": "g"}
     }}
   ]
  }
  ], "spacing": 104}
 ], "spacing": 0}
],
"spacing": 0
}
